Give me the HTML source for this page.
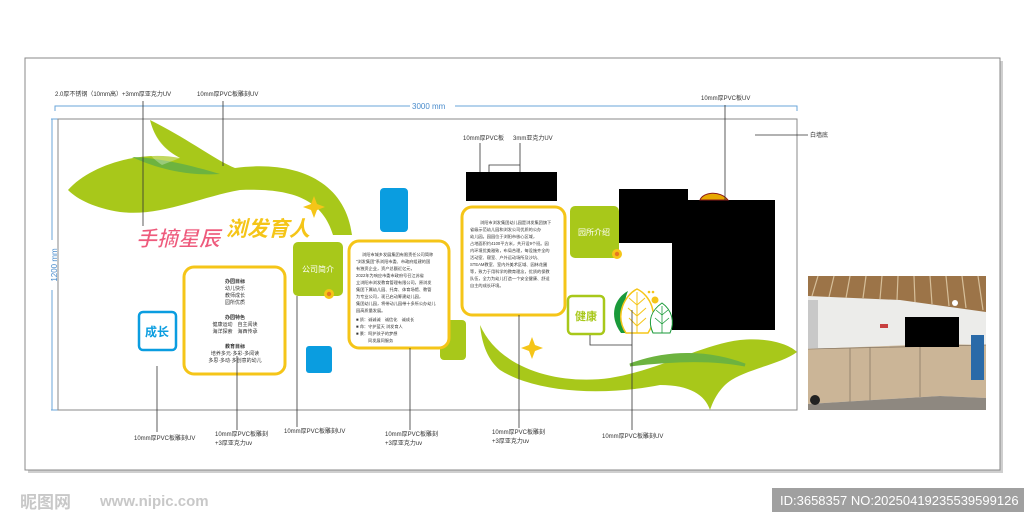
<!DOCTYPE html>
<html><head><meta charset="utf-8"><style>
html,body{margin:0;padding:0;background:#fff;}
body{width:1024px;height:529px;overflow:hidden;position:relative;font-family:"Liberation Sans","Noto Sans CJK SC",sans-serif;}
svg{position:absolute;left:0;top:0}
text{font-family:"Liberation Sans","Noto Sans CJK SC",sans-serif;}
</style></head><body>
<svg width="1024" height="529" viewBox="0 0 1024 529">
<rect x="28" y="61" width="975" height="412" fill="#cfcfcf"/>
<rect x="25" y="58" width="975" height="412" fill="#fff" stroke="#888" stroke-width="1"/>
<g stroke="#6aa6d8" stroke-width="1" fill="none">
<path d="M55 111 V106 H410 M455 106 H797 V111"/>
<path d="M51 119 H58 M52 119 V240 M52 290 V410 M51 410 H58"/>
</g>
<text x="412" y="109" font-size="8" fill="#4a8ccc">3000 mm</text>
<text transform="translate(57,265) rotate(-90)" font-size="8" fill="#4a8ccc" text-anchor="middle">1200 mm</text>
<rect x="58" y="119" width="739" height="291" fill="#fff" stroke="#888" stroke-width="1"/>
<path d="M68 190 C90 165 140 150 180 158 C165 150 155 140 150 120 C190 140 215 160 235 168 C295 160 345 180 352 235 L333 235 C322 198 290 188 240 190 C200 197 160 217 120 212 C95 208 78 200 68 190Z" fill="#a8c81a"/>
<path d="M132 157 C160 158 190 165 220 174 C190 176 160 170 132 157Z" fill="#6db33f"/>
<path d="M150 121 C140 135 140 150 162 165 L180 158 C165 150 155 138 150 121Z" fill="#fff" opacity="0.3"/>
<path d="M480 325 C500 370 560 385 610 378 C660 370 700 345 740 340 C770 337 790 345 797 352 C780 365 740 370 725 385 C715 395 712 405 710 410 C705 395 690 385 660 385 C610 395 540 395 500 370 C488 360 482 345 480 325Z" fill="#a8c81a"/>
<path d="M630 365 C670 350 710 352 745 365 C710 358 670 360 630 365Z" fill="#6db33f" stroke="#6db33f" stroke-width="3"/>
<path d="M314 196 L317 204 L325 207 L317 210 L314 218 L311 210 L303 207 L311 204Z" fill="#f5c518"/>
<path d="M532 337 L535 345 L543 348 L535 351 L532 359 L529 351 L521 348 L529 345Z" fill="#f5c518"/>
<text x="136" y="246" font-size="21" font-weight="bold" fill="#ee5a7c" stroke="#fff" stroke-width="0.6" font-style="italic">手摘星辰</text>
<text x="226" y="236" font-size="21" font-weight="bold" fill="#f5c518" font-style="italic">浏发育人</text>
<rect x="380" y="188" width="28" height="44" rx="4" fill="#0a9de0"/>
<rect x="306" y="346" width="26" height="27" rx="3" fill="#0a9de0"/>
<rect x="139" y="312" width="37" height="38" rx="4" fill="#fff" stroke="#0a9de0" stroke-width="2.5"/>
<text x="157" y="336" font-size="12" font-weight="bold" fill="#0a9de0" text-anchor="middle">成长</text>
<rect x="184" y="267" width="101" height="107" rx="10" fill="#fff" stroke="#f5c518" stroke-width="3"/>
<g font-size="5" fill="#333" text-anchor="middle">
<text x="235" y="283" font-weight="bold">办园目标</text>
<text x="235" y="290">幼儿快乐</text><text x="235" y="297">教师成长</text><text x="235" y="304">园所优质</text>
<text x="235" y="319" font-weight="bold">办园特色</text>
<text x="235" y="326">健康运动　自主阅读</text><text x="235" y="333">海洋探索　海西传承</text>
<text x="235" y="348" font-weight="bold">教育目标</text>
<text x="235" y="355">培养多元·多彩·多阅读</text><text x="235" y="362">多思·多动·多创意的幼儿</text>
</g>
<rect x="293" y="242" width="50" height="54" rx="5" fill="#a8c81a"/>
<text x="318" y="272" font-size="8" fill="#fff" text-anchor="middle">公司简介</text>
<circle cx="329" cy="294" r="5" fill="#f5c518"/><circle cx="329" cy="294" r="2.2" fill="#e87722"/>
<rect x="440" y="320" width="26" height="40" rx="4" fill="#a8c81a"/>
<rect x="349" y="241" width="100" height="107" rx="10" fill="#fff" stroke="#f5c518" stroke-width="3"/>
<g font-size="4.2" fill="#333">
<text x="362" y="256">浏阳市城乡发展集团有限责任公司简称</text>
<text x="356" y="263">"浏发集团"系浏阳市委、市政府组建的国</text>
<text x="356" y="270">有独资企业，资产总额近亿元，</text>
<text x="356" y="277">2022年为响应市委市政府号召江苏省</text>
<text x="356" y="284">立浏阳市浏发教育管理有限公司，原浏发</text>
<text x="356" y="291">集团下属幼儿园、托育、体育场馆、教管</text>
<text x="356" y="298">为专业公司，现已启动筹建幼儿园，</text>
<text x="356" y="305">集团幼儿园，将带动儿园带十多所公办幼儿</text>
<text x="356" y="312">园高质量发展。</text>
<text x="356" y="321">■ 质：诚诚诚　诚信化　诚成长</text>
<text x="356" y="328">■ 命：守护蓝天 浏发育人</text>
<text x="356" y="335">■ 景：呵护孩子的梦想</text>
<text x="368" y="342">同发展同服务</text>
</g>
<rect x="466" y="172" width="91" height="29" fill="#000"/>
<rect x="619" y="189" width="69" height="54" fill="#000"/>
<rect x="672" y="200" width="103" height="130" fill="#000"/>
<path d="M700 200 C703 192 720 190 728 200Z" fill="#e8a800" stroke="#8b1a1a" stroke-width="1"/>
<rect x="462" y="207" width="103" height="108" rx="10" fill="#fff" stroke="#f5c518" stroke-width="3"/>
<g font-size="4.2" fill="#333">
<text x="480" y="224">浏阳市浏发集团幼儿园是浏发集团旗下</text>
<text x="470" y="231">省级示范幼儿园和浏发公司优质的公办</text>
<text x="470" y="238">幼儿园。园园位于浏阳市核心区域，</text>
<text x="470" y="245">占地面积约4100平方米，共开设9个班。园</text>
<text x="470" y="252">内环境优美雅致，布局合理，每设施齐全的</text>
<text x="470" y="259">活动室、寝室、户外运动场所及沙坑、</text>
<text x="470" y="266">STEAM教室、室内外美术区域、园林花圃</text>
<text x="470" y="273">等，致力于用科学的教育理念，优质的保教</text>
<text x="470" y="280">队伍，全力为幼儿打造一个安全健康、舒适</text>
<text x="470" y="287">自主的成长环境。</text>
</g>
<rect x="570" y="206" width="49" height="52" rx="5" fill="#a8c81a"/>
<text x="594" y="235" font-size="8" fill="#fff" text-anchor="middle">园所介绍</text>
<circle cx="617" cy="254" r="5" fill="#f5c518"/><circle cx="617" cy="254" r="2.2" fill="#e87722"/>
<rect x="568" y="296" width="36" height="38" rx="4" fill="#fff" stroke="#a8c81a" stroke-width="2.5"/>
<text x="586" y="320" font-size="11" font-weight="bold" fill="#a8c81a" text-anchor="middle">健康</text>
<path d="M621 333 C608 315 615 298 628 291 C622 305 625 320 630 333Z" fill="#1a9a3a"/>
<path d="M626 333 C614 315 625 295 637 289 C650 295 660 315 648 333Z" fill="#fff" stroke="#f5c518" stroke-width="1.5"/>
<path d="M637 292 V333 M637 305 L629 298 M637 305 L645 298 M637 316 L628 308 M637 316 L646 308 M637 326 L629 318 M637 326 L646 318" stroke="#f5c518" stroke-width="1" fill="none"/>
<path d="M653 333 C647 320 652 310 662 303 C672 310 675 322 670 333Z" fill="#fff" stroke="#1a9a3a" stroke-width="1"/>
<path d="M662 306 V333 M662 315 L656 310 M662 315 L668 310 M662 324 L655 318 M662 324 L669 318" stroke="#1a9a3a" stroke-width="0.8" fill="none"/>
<circle cx="655" cy="300" r="3.5" fill="#f5c518"/><circle cx="649" cy="292" r="1.3" fill="#f5c518"/><circle cx="653" cy="292" r="1.3" fill="#f5c518"/>
<g stroke="#333" stroke-width="0.8" fill="none">
<path d="M143 101 V226"/><path d="M223 101 V166"/>
<path d="M480 143 V172 M520 143 V172 M489 172 V165 H520"/>
<path d="M725 105 V200"/><path d="M755 135 H808"/>
<path d="M157 366 V432"/><path d="M237 356 V430"/><path d="M297 296 V427"/>
<path d="M410 348 V430"/><path d="M519 315 V428"/><path d="M632 310 V430 M590 335 V345 H632"/>
</g>
<g font-size="6" fill="#333">
<text x="55" y="96">2.0厚不锈钢（10mm高）+3mm厚亚克力UV</text>
<text x="197" y="96">10mm厚PVC板雕刻UV</text>
<text x="463" y="140">10mm厚PVC板</text>
<text x="513" y="140">3mm亚克力UV</text>
<text x="701" y="100">10mm厚PVC板UV</text>
<text x="810" y="137">白墙底</text>
<text x="134" y="440">10mm厚PVC板雕刻UV</text>
<text x="215" y="436">10mm厚PVC板雕刻</text><text x="215" y="445">+3厚亚克力uv</text>
<text x="284" y="433">10mm厚PVC板雕刻UV</text>
<text x="385" y="436">10mm厚PVC板雕刻</text><text x="385" y="445">+3厚亚克力uv</text>
<text x="492" y="434">10mm厚PVC板雕刻</text><text x="492" y="443">+3厚亚克力uv</text>
<text x="602" y="438">10mm厚PVC板雕刻UV</text>
</g>
<!-- photo -->
<rect x="808" y="276" width="178" height="134" fill="#ececea"/>
<path d="M808 276 H986 V312 L900 300 L808 296Z" fill="#9c7448"/>
<g stroke="#d6bf9a" stroke-width="1.2"><path d="M818 276 L812 296 M834 276 L829 297 M850 276 L846 298 M866 276 L863 298 M882 276 L880 299 M898 276 L897 300 M914 276 L915 302 M930 276 L932 304 M946 276 L949 306 M962 276 L966 308 M978 276 L983 310"/></g>
<rect x="808" y="300" width="10" height="48" fill="#c8c8c8"/>
<path d="M808 349 L940 344 L986 345 V398 L940 396 L808 404Z" fill="#cbb597"/>
<g stroke="#8a7a66" stroke-width="0.8"><path d="M808 349 L986 345 M850 348 V402 M870 347 V401 M920 345 V397"/></g>
<path d="M808 404 L940 396 L986 398 V410 H808Z" fill="#8e8880"/>
<rect x="905" y="317" width="54" height="30" fill="#000"/>
<rect x="971" y="335" width="13" height="45" fill="#2a6aa8"/>
<rect x="880" y="324" width="8" height="4" fill="#c84040"/>
<circle cx="955" cy="303" r="3" fill="#fff"/>
<circle cx="815" cy="400" r="5" fill="#222"/>
<text x="20" y="508" font-size="17" fill="#c8c8c8" font-weight="bold">昵图网</text>
<text x="100" y="506" font-size="15" fill="#c8c8c8" font-weight="bold">www.nipic.com</text>
<rect x="772" y="488" width="256" height="24" fill="#a0a0a0"/>
<text x="780" y="505" font-size="13" fill="#fff">ID:3658357 NO:20250419235539599126</text>
</svg>
</body></html>
